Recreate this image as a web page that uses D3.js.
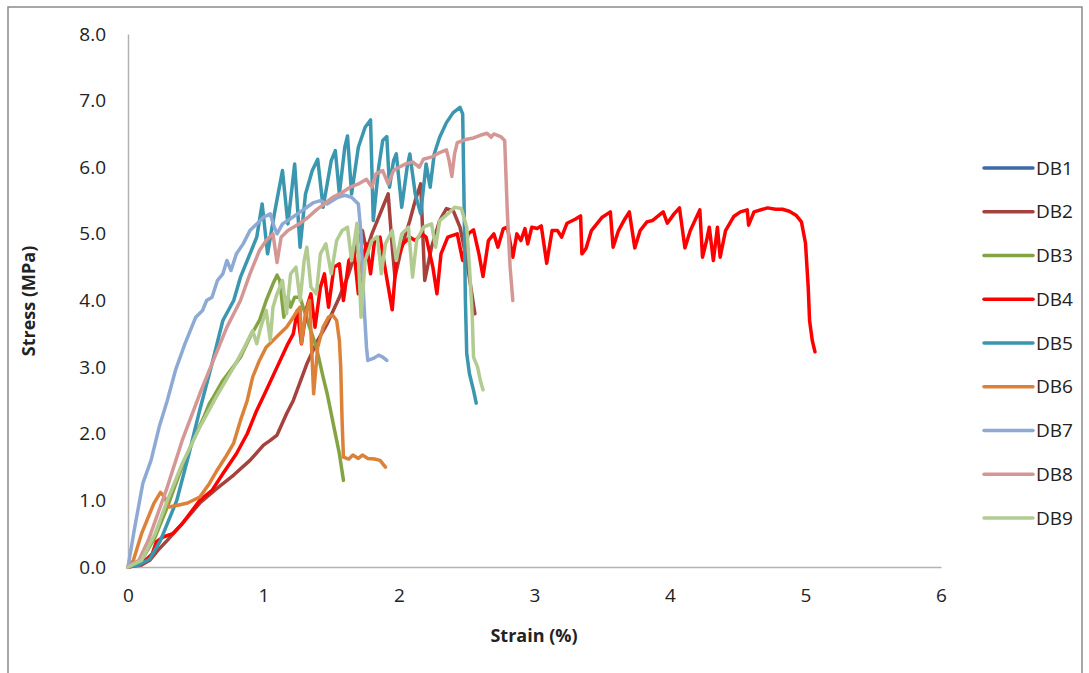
<!DOCTYPE html>
<html>
<head>
<meta charset="utf-8">
<script src="https://cdn.jsdelivr.net/npm/d3@7"></script>
<style>
  body { margin: 0; background: #fff; }
  text { font-family: "Open Sans", sans-serif; fill: #222; }
  .tick-label { font-size: 19px; }
  .title { font-size: 18px; font-weight: bold; }
  .legend text { font-size: 19px; }
</style>
</head>
<body>
<svg width="1089" height="673"></svg>
<script>
// **** Data (strain %, stress MPa) ****
const seriesNames = ['DB1', 'DB2', 'DB3', 'DB4', 'DB5', 'DB6', 'DB7', 'DB8', 'DB9'];
const seriesColors = ['#3D6AA5', '#A5423E', '#84A343', '#FF0000', '#3A97AF', '#DC8138', '#8EA9D4', '#D49795', '#B2CB91'];

const xTicks = [0, 1, 2, 3, 4, 5, 6];
const yTicks = [0, 1, 2, 3, 4, 5, 6, 7, 8];

const db1 = [];

const db2 = [[0,0],[0.1,0.03],[0.16,0.1],[0.22,0.25],[0.29,0.4],[0.4,0.65],[0.53,0.96],[0.65,1.17],[0.78,1.38],
  [0.9,1.6],[1.0,1.83],[1.05,1.9],[1.1,1.98],[1.17,2.3],[1.22,2.5],[1.32,3.05],[1.4,3.4],[1.47,3.65],[1.56,4.05],
  [1.62,4.35],[1.66,4.6],[1.7,4.9],[1.73,5.05],[1.76,4.75],[1.8,5.0],[1.84,5.2],[1.88,5.4],[1.92,5.6],[1.95,4.8],
  [1.97,4.35],[2.02,4.8],[2.08,5.2],[2.12,5.5],[2.16,5.75],[2.19,4.3],[2.24,4.8],[2.3,5.2],[2.35,5.38],[2.4,5.35],
  [2.45,5.1],[2.5,4.6],[2.53,4.2],[2.56,3.8]];

const db3 = [[0,0],[0.1,0.1],[0.2,0.45],[0.29,0.9],[0.38,1.4],[0.48,1.9],[0.56,2.25],[0.6,2.45],[0.63,2.55],
  [0.7,2.8],[0.83,3.15],[0.9,3.45],[0.97,3.7],[1.02,4.0],[1.07,4.25],[1.1,4.38],[1.12,4.3],[1.15,3.75],[1.18,4.05],
  [1.2,3.9],[1.23,4.05],[1.27,4.05],[1.3,3.85],[1.34,3.6],[1.39,3.3],[1.44,2.85],[1.47,2.6],[1.52,2.1],[1.56,1.7],
  [1.59,1.3]];

const db4 = [[0,0],[0.1,0.05],[0.18,0.2],[0.21,0.38],[0.26,0.45],[0.33,0.5],[0.4,0.65],[0.53,1.0],[0.62,1.15],
  [0.7,1.4],[0.8,1.7],[0.88,2.0],[0.95,2.35],[1.02,2.65],[1.1,3.0],[1.18,3.35],[1.22,3.5],[1.25,3.85],[1.28,3.35],
  [1.32,3.9],[1.35,4.1],[1.38,3.6],[1.42,4.2],[1.45,4.4],[1.48,3.9],[1.52,4.5],[1.56,4.55],[1.59,4.0],[1.63,4.6],
  [1.67,4.7],[1.7,4.1],[1.73,4.6],[1.76,4.85],[1.79,4.4],[1.82,4.9],[1.86,4.95],[1.9,4.45],[1.95,3.86],[1.98,4.6],
  [2.03,4.85],[2.08,4.95],[2.12,4.9],[2.17,5.0],[2.2,4.95],[2.25,4.5],[2.28,4.1],[2.31,4.7],[2.36,4.95],[2.43,5.0],
  [2.47,4.6],[2.51,5.0],[2.55,5.06],[2.59,4.7],[2.62,4.36],[2.66,4.9],[2.7,5.0],[2.73,4.8],[2.77,5.08],[2.8,5.1],
  [2.84,4.65],[2.87,5.0],[2.9,4.9],[2.93,5.08],[2.95,4.85],[2.98,5.1],[3.02,5.08],[3.05,5.12],[3.09,4.56],[3.13,5.05],
  [3.17,5.05],[3.2,4.95],[3.24,5.16],[3.3,5.22],[3.34,5.27],[3.35,4.7],[3.38,4.78],[3.42,5.05],[3.5,5.25],[3.56,5.33],
  [3.58,4.8],[3.62,5.05],[3.66,5.2],[3.7,5.33],[3.74,4.79],[3.78,5.05],[3.83,5.18],[3.87,5.2],[3.92,5.28],[3.95,5.33],
  [3.98,5.16],[4.03,5.3],[4.07,5.39],[4.11,4.79],[4.15,5.05],[4.22,5.36],[4.24,4.65],[4.27,4.9],[4.29,5.1],[4.32,4.6],
  [4.35,5.1],[4.37,4.65],[4.41,5.05],[4.47,5.26],[4.52,5.33],[4.57,5.36],[4.58,5.13],[4.62,5.33],[4.72,5.39],
  [4.78,5.37],[4.83,5.37],[4.88,5.34],[4.93,5.28],[4.97,5.18],[5.0,4.86],[5.02,4.2],[5.03,3.7],[5.05,3.4],[5.07,3.23]];

const db5 = [[0,0],[0.08,0.03],[0.16,0.12],[0.24,0.4],[0.3,0.7],[0.36,1.0],[0.45,1.7],[0.53,2.36],[0.62,3.05],
  [0.7,3.7],[0.78,4.0],[0.83,4.35],[0.9,4.7],[0.95,4.95],[0.99,5.45],[1.03,4.7],[1.08,5.3],[1.14,5.95],[1.18,5.15],
  [1.23,6.05],[1.27,4.8],[1.31,5.6],[1.36,5.95],[1.4,6.12],[1.44,5.4],[1.5,6.1],[1.53,6.25],[1.56,5.6],[1.6,6.3],
  [1.62,6.47],[1.65,5.6],[1.7,6.3],[1.75,6.6],[1.79,6.71],[1.81,5.2],[1.85,6.0],[1.88,6.4],[1.91,6.46],[1.93,5.7],
  [1.96,6.1],[1.98,6.2],[2.02,5.4],[2.06,6.0],[2.08,6.2],[2.12,5.6],[2.16,5.3],[2.2,6.05],[2.23,5.7],[2.26,6.2],
  [2.3,6.45],[2.35,6.67],[2.4,6.82],[2.45,6.9],[2.47,6.8],[2.48,5.5],[2.49,4.0],[2.5,3.2],[2.52,2.9],[2.55,2.65],
  [2.57,2.46]];

const db6 = [[0,0],[0.04,0.1],[0.1,0.5],[0.14,0.7],[0.19,0.95],[0.24,1.12],[0.27,1.05],[0.3,0.9],[0.35,0.92],
  [0.44,0.96],[0.53,1.05],[0.6,1.25],[0.66,1.46],[0.72,1.65],[0.78,1.86],[0.83,2.2],[0.88,2.5],[0.92,2.85],
  [0.97,3.1],[1.02,3.3],[1.07,3.4],[1.12,3.5],[1.17,3.6],[1.22,3.75],[1.25,3.85],[1.27,3.9],[1.28,3.36],[1.31,3.8],
  [1.34,4.0],[1.37,2.6],[1.4,3.3],[1.44,3.6],[1.48,3.75],[1.51,3.78],[1.54,3.7],[1.56,3.4],[1.57,3.0],[1.58,2.2],
  [1.59,1.65],[1.63,1.62],[1.66,1.68],[1.7,1.63],[1.73,1.68],[1.77,1.63],[1.82,1.62],[1.86,1.6],[1.9,1.5]];

const db7 = [[0,0],[0.05,0.6],[0.11,1.26],[0.17,1.6],[0.23,2.1],[0.29,2.5],[0.35,2.95],[0.42,3.35],[0.5,3.75],
  [0.55,3.85],[0.58,4.0],[0.62,4.05],[0.66,4.3],[0.7,4.4],[0.73,4.6],[0.76,4.45],[0.8,4.7],[0.85,4.85],[0.9,5.05],
  [0.95,5.15],[1.0,5.25],[1.05,5.3],[1.08,5.1],[1.1,5.0],[1.14,5.15],[1.18,5.2],[1.25,5.3],[1.32,5.4],[1.37,5.47],
  [1.42,5.5],[1.47,5.45],[1.51,5.5],[1.55,5.55],[1.6,5.58],[1.65,5.55],[1.7,5.45],[1.72,5.0],[1.74,4.0],[1.76,3.3],
  [1.77,3.1],[1.81,3.13],[1.85,3.18],[1.88,3.15],[1.91,3.1]];

const db8 = [[0,0],[0.08,0.1],[0.15,0.4],[0.22,0.8],[0.29,1.2],[0.4,1.9],[0.53,2.6],[0.63,3.1],[0.73,3.6],
  [0.83,4.0],[0.9,4.4],[0.97,4.75],[1.02,4.9],[1.07,5.0],[1.1,4.57],[1.13,4.95],[1.18,5.05],[1.27,5.16],[1.33,5.25],
  [1.39,5.36],[1.45,5.45],[1.51,5.55],[1.58,5.62],[1.64,5.7],[1.7,5.75],[1.76,5.82],[1.8,5.7],[1.83,5.9],[1.88,5.95],
  [1.92,5.75],[1.96,5.95],[2.0,6.0],[2.05,6.05],[2.1,6.08],[2.15,6.0],[2.18,6.12],[2.25,6.16],[2.3,6.22],[2.35,6.26],
  [2.37,6.1],[2.39,5.86],[2.41,6.2],[2.43,6.37],[2.5,6.42],[2.55,6.44],[2.6,6.48],[2.65,6.51],[2.68,6.45],[2.7,6.5],
  [2.75,6.46],[2.78,6.4],[2.8,5.3],[2.82,4.5],[2.84,4.0]];

const db9 = [[0,0],[0.1,0.1],[0.2,0.5],[0.29,1.0],[0.4,1.55],[0.53,2.1],[0.65,2.55],[0.78,3.0],[0.86,3.3],
  [0.92,3.55],[0.95,3.35],[0.98,3.6],[1.02,3.85],[1.05,3.4],[1.07,3.9],[1.1,4.1],[1.14,4.3],[1.17,3.8],[1.2,4.4],
  [1.24,4.5],[1.27,4.0],[1.3,4.6],[1.32,4.8],[1.35,4.2],[1.39,4.1],[1.42,4.7],[1.46,4.85],[1.5,4.4],[1.54,4.9],
  [1.58,5.05],[1.62,5.1],[1.65,4.6],[1.69,5.16],[1.72,3.75],[1.75,4.6],[1.8,4.9],[1.84,4.96],[1.87,4.4],[1.9,4.85],
  [1.95,5.05],[1.98,4.6],[2.02,5.0],[2.07,5.1],[2.1,4.35],[2.13,4.9],[2.18,5.1],[2.24,5.15],[2.27,4.8],[2.3,5.2],
  [2.36,5.3],[2.41,5.4],[2.46,5.38],[2.5,5.1],[2.52,4.5],[2.54,3.8],[2.55,3.15],[2.58,3.0],[2.6,2.8],[2.62,2.66]];

const seriesData = [db1, db2, db3, db4, db5, db6, db7, db8, db9];

// **** Scales ****
const xScale = d3.scaleLinear().domain([0, 6]).range([128, 941]);
const yScale = d3.scaleLinear().domain([0, 8]).range([567, 34]);

const svg = d3.select('svg');

// outer chart border
svg.append('rect')
  .attr('x', 8).attr('y', 7)
  .attr('width', 1074).attr('height', 720)
  .attr('fill', 'none')
  .attr('stroke', '#8a8a8a')
  .attr('stroke-width', 1.5);

// axes
const xAxis = svg.append('g')
  .attr('transform', 'translate(0,567)')
  .call(d3.axisBottom(xScale).tickValues(xTicks).tickSize(0).tickPadding(22).tickFormat(d3.format('d')));
const yAxis = svg.append('g')
  .attr('transform', 'translate(128,0)')
  .call(d3.axisLeft(yScale).tickValues(yTicks).tickSize(0).tickPadding(22).tickFormat(d3.format('.1f')));

[xAxis, yAxis].forEach(g => {
  g.select('.domain').attr('stroke', '#b3b3b3').attr('stroke-width', 1.5);
  g.selectAll('text').attr('class', 'tick-label').style('font-family', '"Open Sans", sans-serif');
});

// series lines
const line = d3.line()
  .x(d => xScale(d[0]))
  .y(d => yScale(d[1]));

seriesData.forEach((data, i) => {
  if (!data.length) return;
  svg.append('path')
    .datum(data)
    .attr('d', line)
    .attr('fill', 'none')
    .attr('stroke', seriesColors[i])
    .attr('stroke-width', 3.5)
    .attr('stroke-linejoin', 'round')
    .attr('stroke-linecap', 'round');
});

// axis titles
svg.append('text')
  .attr('class', 'title')
  .attr('text-anchor', 'middle')
  .attr('transform', 'translate(35,301) rotate(-90)')
  .text('Stress (MPa)');

svg.append('text')
  .attr('class', 'title')
  .attr('text-anchor', 'middle')
  .attr('x', 534).attr('y', 642)
  .text('Strain (%)');

// legend
const legend = svg.append('g').attr('class', 'legend');
seriesNames.forEach((name, i) => {
  const y = 168 + i * 43.75;
  legend.append('line')
    .attr('x1', 984).attr('x2', 1033)
    .attr('y1', y).attr('y2', y)
    .attr('stroke', seriesColors[i])
    .attr('stroke-width', 3.5)
    .attr('stroke-linecap', 'round');
  legend.append('text')
    .attr('x', 1036).attr('y', y)
    .attr('dy', '0.35em')
    .text(name);
});
</script>
</body>
</html>
